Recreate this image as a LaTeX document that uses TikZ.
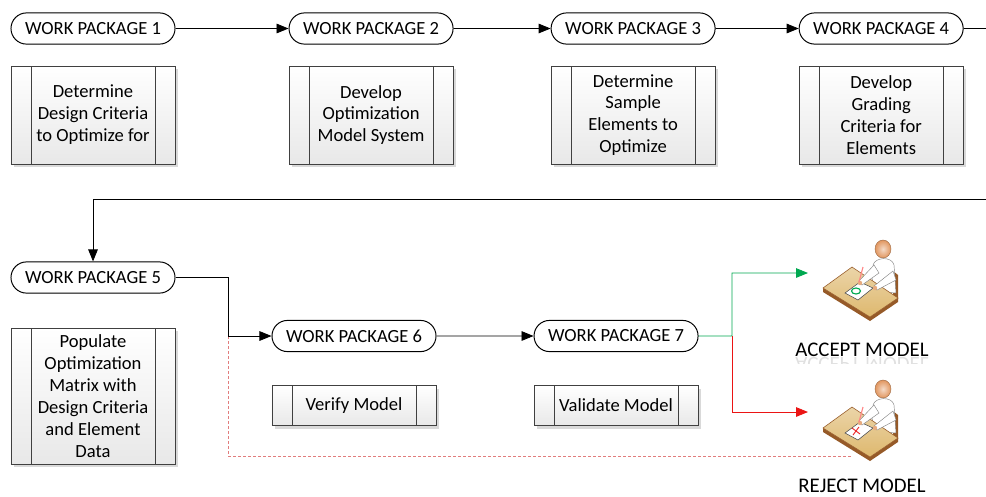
\documentclass[tikz,border=0pt]{standalone}
\usepackage{fontspec}
\setmainfont{Carlito}
\usepackage{xcolor}
\usepackage{tikz}
\usetikzlibrary{arrows.meta}
\usetikzlibrary{positioning}
\usetikzlibrary{shapes.misc}
\usetikzlibrary{shadows}

\definecolor{okgreen}{RGB}{0,168,80}
\definecolor{nored}{RGB}{235,20,20}
\definecolor{dashred}{RGB}{225,125,125}
\definecolor{desktop}{RGB}{222,184,110}
\definecolor{deskedge}{RGB}{150,90,40}
\definecolor{skin}{RGB}{225,150,95}

\tikzset{
  package/.style={rounded rectangle, draw, fill=white, line width=0.7pt,
    minimum width=4.1cm, minimum height=0.78cm, inner sep=0pt},
  task/.style={rectangle, draw=black!75, line width=0.6pt, top color=white, bottom color=black!9,
    minimum width=4.1cm, align=center, inner sep=0pt,
    drop shadow={shadow xshift=0.08cm, shadow yshift=-0.08cm, fill=black!15, opacity=1},
    path picture={
      \draw[black!75, line width=0.6pt]
        ([xshift=0.5cm]path picture bounding box.north west) -- ([xshift=0.5cm]path picture bounding box.south west)
        ([xshift=-0.5cm]path picture bounding box.north east) -- ([xshift=-0.5cm]path picture bounding box.south east);}},
  flow/.style={-{Triangle[length=0.3cm,width=0.24cm]}, line width=0.6pt},
  wire/.style={line width=0.6pt},
  reject path/.style={dashred, line width=0.6pt, dash pattern=on 0.075cm off 0.05cm},
  outline/.style={black!50, line width=0.3pt},
  result/.style={font=\fontsize{14.8}{17}\selectfont, inner sep=0pt},
  pics/reviewer/.style={code={
    \fill[deskedge] (33,-14) -- (38,-10) -- (38,14) -- (33,10) -- cycle;
    \draw[outline, fill=white] (12,6) -- (13,-20) .. controls (15,-28) and (32,-29) .. (34,-20) -- (36,8) -- cycle;
    \shade[inner color=skin!35!white, outer color=skin, draw=skin!70!black, line width=0.3pt] (23,-36) ellipse (8 and 9);
    \fill[deskedge] (-37,3) -- (10,32) -- (38,13) -- (38,17) -- (10,36) -- (-37,7) -- cycle;
    \draw[deskedge, line width=0.4pt, top color=desktop!60!white, bottom color=desktop] (-37,3) -- (-8,-18) -- (38,13) -- (10,32) -- cycle;
    \draw[black!70, fill=white, line width=0.4pt] (-15,8) -- (0,-3) -- (13,3) -- (-2,15) -- cycle;
    \draw[outline, fill=white] (14,-20) -- (-1,-4) -- (2,0) -- (19,-12) -- cycle;
    \draw[outline, fill=white] (33,-14) -- (14,1) -- (17,5) -- (36,-5) -- cycle;
    \fill[skin!80!white] (0,-2) circle (2.2) (15,3) circle (2.2);
    \draw[pink!70!red, line width=0.8pt] (3,-18) -- (-1,-3);
    \coordinate (-mark) at (-4,6);
  }}
}

\begin{document}
\begin{tikzpicture}[x=0.025cm, y=-0.025cm, font=\fontsize{13.2}{15.6}\selectfont]
\useasboundingbox (0,0) rectangle (986,496);

\node[package] (wp1) at (93,28.5) {WORK PACKAGE 1};
\node[package, right=2.825cm of wp1] (wp2) {WORK PACKAGE 2};
\node[package, right=2.425cm of wp2] (wp3) {WORK PACKAGE 3};
\node[package, right=2.075cm of wp3] (wp4) {WORK PACKAGE 4};

\node[task, below=0.525cm of wp1, minimum height=2.45cm] (task1) {Determine\\Design Criteria\\to Optimize for};
\node[task, below=0.525cm of wp2, minimum height=2.45cm] (task2) {Develop\\Optimization\\Model System};
\node[task, below=0.525cm of wp3, minimum height=2.45cm] (task3) {Determine\\Sample\\Elements to\\Optimize};
\node[task, below=0.525cm of wp4, minimum height=2.45cm] (task4) {Develop\\Grading\\Criteria for\\Elements};

\node[package] (wp5) at (93,277.5) {WORK PACKAGE 5};
\node[task, below=0.85cm of wp5, minimum height=3.4cm] (task5) {Populate\\Optimization\\Matrix with\\Design Criteria\\and Element\\Data};

\node[package] (wp6) at (354,336) {WORK PACKAGE 6};
\node[package, right=2.425cm of wp6] (wp7) {WORK PACKAGE 7};
\node[task, below=0.825cm of wp6, minimum height=1cm] (task6) {Verify Model};
\node[task, below=0.825cm of wp7, minimum height=1cm] (task7) {Validate Model};

\pic (accept) at (860,285) {reviewer};
\pic (reject) at (860,425) {reviewer};
\draw[okgreen, line width=0.8pt] (accept-mark) ellipse (4.5 and 3);
\draw[nored, line width=0.6pt] ([shift={(-4,-3)}]reject-mark) -- ([shift={(4,3)}]reject-mark)
  ([shift={(-3,4)}]reject-mark) -- ([shift={(3,-4)}]reject-mark);

% label with a faint reflection
\begin{scope}
  \clip (780,357) rectangle (950,363);
  \node[result, text=black!12, anchor=north] at (862,357) {\scalebox{1}[-1]{ACCEPT MODEL}};
\end{scope}
\node[result, anchor=south] (acceptLbl) at (862,357) {ACCEPT MODEL};
\node[result, anchor=south] (rejectLbl) at (862,493) {REJECT MODEL};

\coordinate (out4) at (986,28.5);
\coordinate (back4) at (986,199);
\coordinate (bend5) at (228,336);
\coordinate (dropEnd) at (853,456);
\coordinate (split) at (732,336);
\coordinate (okIn) at (808,273);
\coordinate (noIn) at (808,412);

\draw[flow] (wp1) -- (wp2);
\draw[flow] (wp2) -- (wp3);
\draw[flow] (wp3) -- (wp4);
\draw[wire] (wp4) -- (out4);
\draw[flow] (back4) -| (wp5);
\draw[reject path] (bend5) |- (dropEnd);
\draw[flow] (wp5) -| (bend5) -- (wp6);
\draw[flow] (wp6) -- (wp7);
\draw[flow, okgreen] (wp7) -- (split) |- (okIn);
\draw[flow, nored] (split) |- (noIn);
\end{tikzpicture}
\end{document}
